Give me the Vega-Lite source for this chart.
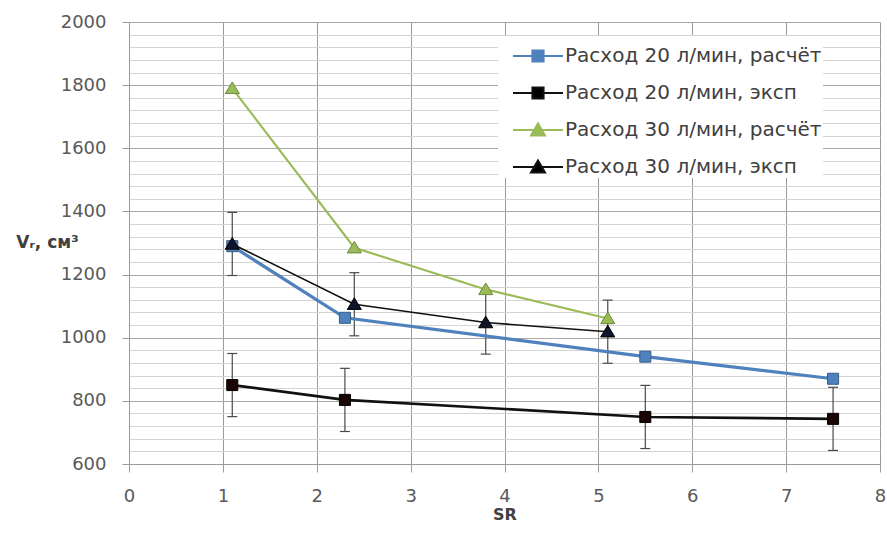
{
  "$schema": "https://vega.github.io/schema/vega-lite/v6.json",
  "width": 751,
  "height": 442,
  "autosize": {"type": "none"},
  "padding": {"left": 129, "top": 22, "right": 7, "bottom": 83},
  "background": "white",
  "config": {"view": {"stroke": null}, "font": "DejaVu Sans"},
  "data": {
    "values": [
      {"series": "Расход 20 л/мин, расчёт", "sr": 1.1, "v": 1290},
      {"series": "Расход 20 л/мин, расчёт", "sr": 2.3, "v": 1063},
      {"series": "Расход 20 л/мин, расчёт", "sr": 5.5, "v": 940},
      {"series": "Расход 20 л/мин, расчёт", "sr": 7.5, "v": 870},
      {"series": "Расход 20 л/мин, эксп", "sr": 1.1, "v": 850, "lo": 750, "hi": 950},
      {"series": "Расход 20 л/мин, эксп", "sr": 2.3, "v": 803, "lo": 703, "hi": 903},
      {"series": "Расход 20 л/мин, эксп", "sr": 5.5, "v": 749, "lo": 649, "hi": 849},
      {"series": "Расход 20 л/мин, эксп", "sr": 7.5, "v": 743, "lo": 643, "hi": 843},
      {"series": "Расход 30 л/мин, расчёт", "sr": 1.1, "v": 1790},
      {"series": "Расход 30 л/мин, расчёт", "sr": 2.4, "v": 1285},
      {"series": "Расход 30 л/мин, расчёт", "sr": 3.8, "v": 1153},
      {"series": "Расход 30 л/мин, расчёт", "sr": 5.1, "v": 1061},
      {"series": "Расход 30 л/мин, эксп", "sr": 1.1, "v": 1297, "lo": 1197, "hi": 1397},
      {"series": "Расход 30 л/мин, эксп", "sr": 2.4, "v": 1106, "lo": 1006, "hi": 1206},
      {"series": "Расход 30 л/мин, эксп", "sr": 3.8, "v": 1048, "lo": 948, "hi": 1148},
      {"series": "Расход 30 л/мин, эксп", "sr": 5.1, "v": 1019, "lo": 919, "hi": 1119}
    ]
  },
  "encoding": {
    "x": {
      "field": "sr",
      "type": "quantitative",
      "scale": {"domain": [0, 8], "nice": false, "zero": false},
      "axis": {
        "values": [0, 1, 2, 3, 4, 5, 6, 7, 8],
        "grid": true,
        "gridColor": "#9a9a9a",
        "tickSize": 8,
        "tickColor": "#9a9a9a",
        "domainColor": "#9a9a9a",
        "labelFont": "DejaVu Sans",
        "labelFontSize": 18,
        "labelColor": "#595959",
        "labelPadding": 15,
        "labelFlush": false,
        "title": "SR",
        "titleFont": "DejaVu Sans",
        "titleFontSize": 16,
        "titleFontWeight": "bold",
        "titleColor": "#404040",
        "titlePadding": 1
      }
    }
  },
  "layer": [
    {
      "transform": [{"filter": "isValid(datum.lo)"}],
      "mark": {"type": "rule", "color": "#4a4a4a", "strokeWidth": 1.2},
      "encoding": {
        "y": {
          "field": "lo",
          "type": "quantitative",
          "scale": {"domain": [600, 2000], "nice": false, "zero": false},
          "axis": {
            "orient": "left",
            "values": [640, 680, 720, 760, 840, 880, 920, 960, 1040, 1080, 1120, 1160, 1240, 1280, 1320, 1360, 1440, 1480, 1520, 1560, 1640, 1680, 1720, 1760, 1840, 1880, 1920, 1960],
            "grid": true,
            "gridColor": "#d4d4d4",
            "labels": false,
            "ticks": false,
            "domain": false,
            "title": null
          }
        },
        "y2": {"field": "hi"}
      }
    },
    {
      "transform": [{"filter": "isValid(datum.lo)"}],
      "mark": {"type": "tick", "orient": "horizontal", "color": "#4a4a4a", "thickness": 1.2, "size": 10, "opacity": 1},
      "encoding": {
        "y": {"field": "lo", "type": "quantitative", "scale": {"domain": [600, 2000], "nice": false, "zero": false}, "axis": null}
      }
    },
    {
      "transform": [{"filter": "isValid(datum.hi)"}],
      "mark": {"type": "tick", "orient": "horizontal", "color": "#4a4a4a", "thickness": 1.2, "size": 10, "opacity": 1},
      "encoding": {
        "y": {"field": "hi", "type": "quantitative", "scale": {"domain": [600, 2000], "nice": false, "zero": false}, "axis": null}
      }
    },
    {
      "mark": {"type": "line"},
      "encoding": {
        "y": {
          "field": "v",
          "type": "quantitative",
          "scale": {"domain": [600, 2000], "nice": false, "zero": false},
          "axis": {
            "orient": "left",
            "values": [600, 800, 1000, 1200, 1400, 1600, 1800, 2000],
            "format": "d",
            "grid": true,
            "gridColor": "#a8a8a8",
            "tickSize": 7,
            "tickColor": "#9a9a9a",
            "domainColor": "#9a9a9a",
            "labelFont": "DejaVu Sans",
            "labelFontSize": 18,
            "labelColor": "#595959",
            "labelPadding": 16,
            "labelFlush": false,
            "title": "Vᵣ, см³",
            "titleAngle": 0,
            "titleX": -82,
            "titleY": 220,
            "titleAlign": "center",
            "titleBaseline": "middle",
            "titleFont": "DejaVu Sans",
            "titleFontSize": 17,
            "titleFontWeight": "bold",
            "titleColor": "#404040"
          }
        },
        "color": {
          "field": "series",
          "type": "nominal",
          "scale": {
            "domain": ["Расход 20 л/мин, расчёт", "Расход 20 л/мин, эксп", "Расход 30 л/мин, расчёт", "Расход 30 л/мин, эксп"],
            "range": ["#4F81BD", "#111111", "#9BBB59", "#111111"]
          },
          "legend": null
        },
        "strokeWidth": {
          "field": "series",
          "type": "nominal",
          "scale": {
            "domain": ["Расход 20 л/мин, расчёт", "Расход 20 л/мин, эксп", "Расход 30 л/мин, расчёт", "Расход 30 л/мин, эксп"],
            "range": [3.2, 1.6, 3.2, 1.6]
          },
          "legend": null
        }
      }
    },
    {
      "mark": {"type": "point", "filled": true, "opacity": 1, "size": 256, "strokeWidth": 1},
      "encoding": {
        "y": {"field": "v", "type": "quantitative", "scale": {"domain": [600, 2000], "nice": false, "zero": false}, "axis": null},
        "shape": {
          "field": "series",
          "type": "nominal",
          "scale": {
            "domain": ["Расход 20 л/мин, расчёт", "Расход 20 л/мин, эксп", "Расход 30 л/мин, расчёт", "Расход 30 л/мин, эксп"],
            "range": ["M-0.69,-0.69H0.69V0.69H-0.69Z", "M-0.69,-0.69H0.69V0.69H-0.69Z", "M0,-0.8L0.88,0.65H-0.88Z", "M0,-0.8L0.88,0.65H-0.88Z"]
          },
          "legend": null
        },
        "fill": {
          "field": "series",
          "type": "nominal",
          "scale": {
            "domain": ["Расход 20 л/мин, расчёт", "Расход 20 л/мин, эксп", "Расход 30 л/мин, расчёт", "Расход 30 л/мин, эксп"],
            "range": ["#4F81BD", "#1a0505", "#9BBB59", "#10142a"]
          },
          "legend": null
        },
        "stroke": {
          "field": "series",
          "type": "nominal",
          "scale": {
            "domain": ["Расход 20 л/мин, расчёт", "Расход 20 л/мин, эксп", "Расход 30 л/мин, расчёт", "Расход 30 л/мин, эксп"],
            "range": ["#385D8A", "#000000", "#6E8A3A", "#000000"]
          },
          "legend": null
        }
      }
    },
    {
      "transform": [{"filter": "datum.sr < 0"}],
      "mark": {"type": "point", "filled": true, "opacity": 1},
      "encoding": {
        "y": {"field": "v", "type": "quantitative", "scale": {"domain": [600, 2000], "nice": false, "zero": false}, "axis": null},
        "shape": {
          "field": "series",
          "type": "nominal",
          "scale": {
            "domain": ["Расход 20 л/мин, расчёт", "Расход 20 л/мин, эксп", "Расход 30 л/мин, расчёт", "Расход 30 л/мин, эксп"],
            "range": ["M-1.39,0H-0.31M0.31,0H1.39M-0.31,-0.31H0.31V0.31H-0.31Z", "M-1.39,0H-0.31M0.31,0H1.39M-0.31,-0.31H0.31V0.31H-0.31Z", "M-1.39,0H-0.21M0.21,0H1.39M0,-0.36L0.39,0.3H-0.39Z", "M-1.39,0H-0.21M0.21,0H1.39M0,-0.36L0.39,0.3H-0.39Z"]
          },
          "legend": {"orient": "none", "legendX": 369, "legendY": 14, "title": null, "padding": 1, "symbolSize": 1296, "symbolOffset": 20, "labelOffset": 8, "rowPadding": 8, "fillColor": "white", "labelFont": "DejaVu Sans", "labelFontSize": 20, "labelColor": "#404040", "symbolStrokeWidth": 2, "labelLimit": 400}
        },
        "fill": {
          "field": "series",
          "type": "nominal",
          "scale": {
            "domain": ["Расход 20 л/мин, расчёт", "Расход 20 л/мин, эксп", "Расход 30 л/мин, расчёт", "Расход 30 л/мин, эксп"],
            "range": ["#4F81BD", "#000000", "#9BBB59", "#000000"]
          },
          "legend": {"orient": "none", "legendX": 369, "legendY": 14, "title": null, "padding": 1, "symbolSize": 1296, "symbolOffset": 20, "labelOffset": 8, "rowPadding": 8, "fillColor": "white", "labelFont": "DejaVu Sans", "labelFontSize": 20, "labelColor": "#404040", "symbolStrokeWidth": 2, "labelLimit": 400}
        },
        "stroke": {
          "field": "series",
          "type": "nominal",
          "scale": {
            "domain": ["Расход 20 л/мин, расчёт", "Расход 20 л/мин, эксп", "Расход 30 л/мин, расчёт", "Расход 30 л/мин, эксп"],
            "range": ["#4F81BD", "#111111", "#9BBB59", "#111111"]
          },
          "legend": {"orient": "none", "legendX": 369, "legendY": 14, "title": null, "padding": 1, "symbolSize": 1296, "symbolOffset": 20, "labelOffset": 8, "rowPadding": 8, "fillColor": "white", "labelFont": "DejaVu Sans", "labelFontSize": 20, "labelColor": "#404040", "symbolStrokeWidth": 2, "labelLimit": 400}
        }
      }
    }
  ],
  "resolve": {
    "scale": {"shape": "independent", "fill": "independent", "stroke": "independent"},
    "axis": {"y": "independent"}
  }
}
